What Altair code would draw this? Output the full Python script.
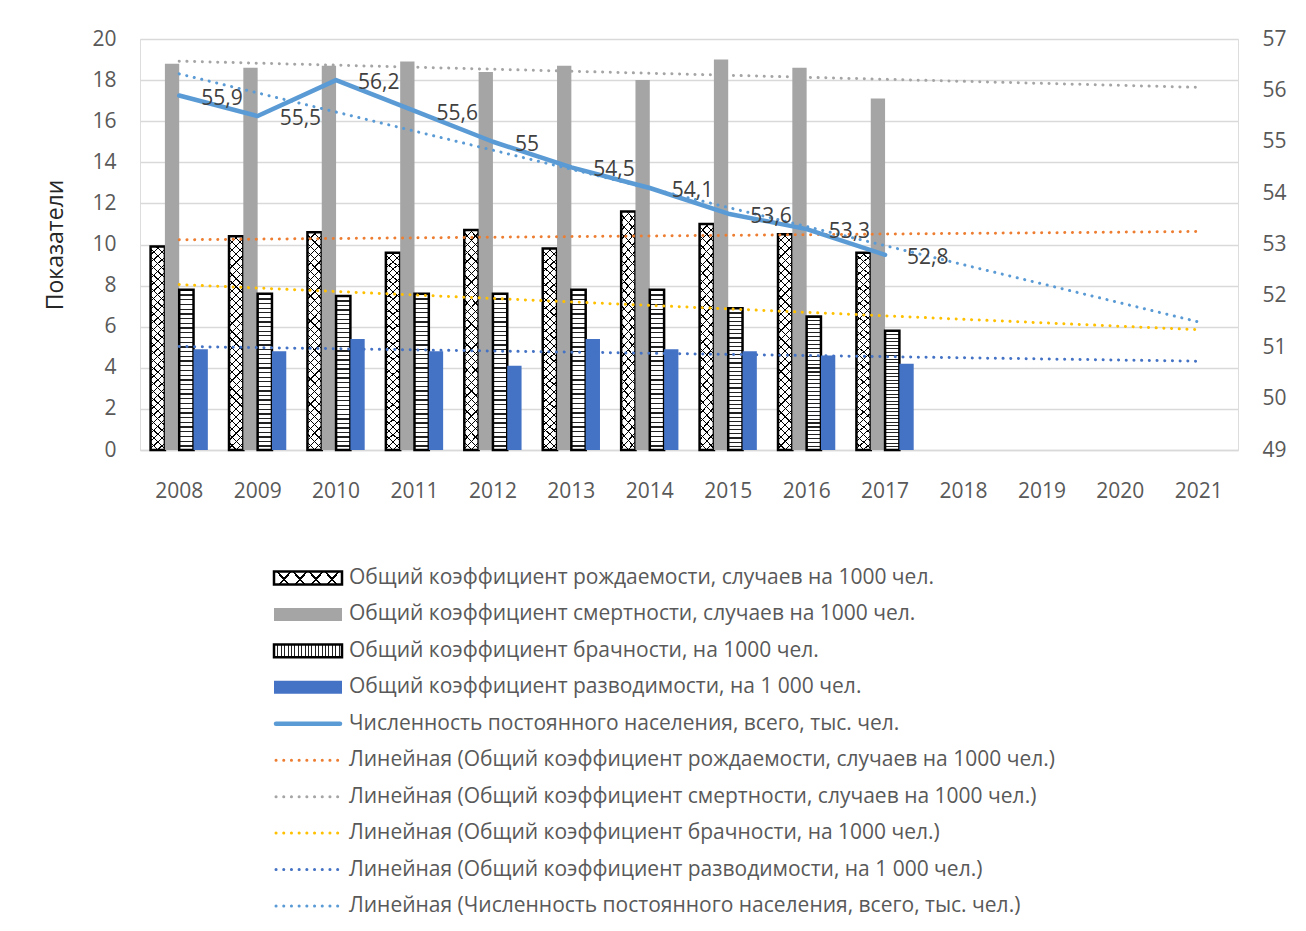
import altair as alt
import pandas as pd

# ---------------- data ----------------
years = [2008, 2009, 2010, 2011, 2012, 2013, 2014, 2015, 2016, 2017]
axis_years = [2008, 2009, 2010, 2011, 2012, 2013, 2014, 2015, 2016, 2017, 2018, 2019, 2020, 2021]
birth = [9.9, 10.4, 10.6, 9.6, 10.7, 9.8, 11.6, 11.0, 10.5, 9.6]
death = [18.8, 18.6, 18.7, 18.9, 18.4, 18.7, 18.0, 19.0, 18.6, 17.1]
marriage = [7.8, 7.6, 7.5, 7.6, 7.6, 7.8, 7.8, 6.9, 6.5, 5.8]
divorce = [4.9, 4.8, 5.4, 4.8, 4.1, 5.4, 4.9, 4.8, 4.6, 4.2]
population = [55.9, 55.5, 56.2, 55.6, 55.0, 54.5, 54.1, 53.6, 53.3, 52.8]

series_keys = ["birth", "death", "marriage", "divorce"]
series_labels = [
    "Общий коэффициент рождаемости, случаев на 1000 чел.",
    "Общий коэффициент смертности, случаев на 1000 чел.",
    "Общий коэффициент брачности, на 1000 чел.",
    "Общий коэффициент разводимости, на 1 000 чел.",
]
pop_label = "Численность постоянного населения, всего, тыс. чел."
trend_labels = ["Линейная (" + s + ")" for s in series_labels + [pop_label]]
legend_labels = series_labels + [pop_label] + trend_labels
legend_kinds = series_keys + ["pop"] + ["t_" + k for k in series_keys] + ["t_pop"]

# ---------------- tables ----------------
rows = []
for key, vals in zip(series_keys, [birth, death, marriage, divorce]):
    for y, v in zip(years, vals):
        rows.append({"year": y, "series": key, "value": v})
bars_df = pd.DataFrame(rows)
pop_df = pd.DataFrame({"year": years, "pop": population})
legend_df = pd.DataFrame({"idx": list(range(len(legend_labels))), "label": legend_labels, "kind": legend_kinds})

# ---------------- styles ----------------
FONT = "Open Sans"
TXT = "#595959"
GRID = "#d9d9d9"
C_DEATH = "#a5a5a5"
C_DIV = "#4472c4"
C_POP = "#5b9bd5"
trend_colors = {"birth": "#ed7d31", "death": "#a5a5a5", "marriage": "#ffc000", "divorce": "#4472c4"}
DOT = [0.1, 7.6]
FS = 21
CLEAR = "rgba(255,255,255,0)"


def band_stops(n, frac, tmax, dark):
    stops = []
    for i in range(n):
        a = tmax * i / n
        b = tmax * (i + frac) / n
        c = tmax * (i + 1) / n
        stops += [
            alt.GradientStop(color=dark, offset=a),
            alt.GradientStop(color=dark, offset=b),
            alt.GradientStop(color=CLEAR, offset=b),
            alt.GradientStop(color=CLEAR, offset=c),
        ]
    if tmax < 1:
        stops.append(alt.GradientStop(color=CLEAR, offset=1))
    return stops


def stripes(n, frac, vertical, dark="#000000"):
    stops = band_stops(n, frac, 1.0, dark)
    if vertical:
        return alt.LinearGradient(gradient="linear", stops=stops, x1=0, y1=0, x2=0, y2=1)
    return alt.LinearGradient(gradient="linear", stops=stops, x1=0, y1=0, x2=1, y2=0)


def diag(n, frac, ky, mirror, dark="#000000"):
    # diagonal hatch in bounding-box units: gradient vector (1, ky)
    tmax = (1 + ky) / (1 + ky * ky)
    stops = band_stops(n, frac, tmax, dark)
    if mirror:
        return alt.LinearGradient(gradient="linear", stops=stops, x1=1, y1=0, x2=0, y2=ky)
    return alt.LinearGradient(gradient="linear", stops=stops, x1=0, y1=0, x2=1, y2=ky)


x_enc = alt.X(
    "year:O",
    scale=alt.Scale(domain=axis_years, paddingInner=0.27, paddingOuter=0.135),
    axis=alt.Axis(
        title=None, labelAngle=0, ticks=False, grid=False, domain=True, domainColor=GRID,
        domainWidth=1.5, labelPadding=30, labelFont=FONT, labelFontSize=FS, labelColor=TXT,
    ),
)
xo_enc = alt.XOffset("series:N", scale=alt.Scale(domain=series_keys, paddingInner=0, paddingOuter=0))
y_left = alt.Y(
    "value:Q",
    scale=alt.Scale(domain=[0, 20], nice=False),
    axis=alt.Axis(
        values=list(range(0, 21, 2)), title="Показатели", grid=True, gridColor=GRID, gridWidth=1.5,
        domain=False, ticks=False, labelPadding=24, labelFont=FONT, labelFontSize=FS, labelColor=TXT,
        titleFont=FONT, titleFontSize=23, titleFontWeight="normal", titleColor="#262626", titlePadding=24,
    ),
)

base_bars = alt.Chart(bars_df).encode(x=x_enc, xOffset=xo_enc, y=y_left)


def only(key):
    return alt.datum.series == key


bars = [
    base_bars.transform_filter(only("birth")).mark_bar(fill="white"),
    base_bars.transform_filter(only("birth")).mark_bar(fill=diag(28, 0.15, 15, False)),
    base_bars.transform_filter(only("birth")).mark_bar(fill=diag(28, 0.15, 15, True)),
    base_bars.transform_filter(only("birth")).mark_bar(fill="transparent", stroke="black", strokeWidth=2.5),
    base_bars.transform_filter(only("death")).mark_bar(fill=C_DEATH),
    base_bars.transform_filter(only("marriage")).mark_bar(fill="white"),
    base_bars.transform_filter(only("marriage")).mark_bar(fill=stripes(34, 0.28, True, "#222222")),
    base_bars.transform_filter(only("marriage")).mark_bar(fill="transparent", stroke="black", strokeWidth=2.5),
    base_bars.transform_filter(only("divorce")).mark_bar(fill=C_DIV),
]

trend_left = (
    alt.Chart(bars_df)
    .transform_regression("year", "value", groupby=["series"], extent=[2008, 2021])
    .mark_line(strokeDash=DOT, strokeWidth=3, strokeCap="round")
    .encode(
        x=x_enc,
        y=y_left,
        color=alt.Color(
            "series:N",
            scale=alt.Scale(domain=series_keys, range=[trend_colors[k] for k in series_keys]),
            legend=None,
        ),
        detail="series:N",
    )
)

left = alt.layer(*bars, trend_left)

y_right = alt.Y(
    "pop:Q",
    scale=alt.Scale(domain=[49, 57], nice=False),
    axis=alt.Axis(
        orient="right", values=list(range(49, 58)), title=None, grid=False, domain=False,
        ticks=False, labelPadding=24, labelFont=FONT, labelFontSize=FS, labelColor=TXT,
    ),
)

pop_base = alt.Chart(pop_df).encode(x=x_enc, y=y_right)
pop_line = pop_base.mark_line(color=C_POP, strokeWidth=4.5, strokeCap="round", strokeJoin="round")
pop_text = pop_base.transform_calculate(
    lab="replace(toString(datum.pop), '.', ',')"
).mark_text(align="left", baseline="middle", dx=22, dy=3, font=FONT, fontSize=FS, color="#404040").encode(
    text="lab:N"
)
pop_trend = (
    alt.Chart(pop_df)
    .transform_regression("year", "pop", extent=[2008, 2021])
    .mark_line(strokeDash=DOT, strokeWidth=3, strokeCap="round", color=C_POP)
    .encode(x=x_enc, y=y_right)
)
right = alt.layer(pop_line, pop_trend, pop_text)

# ---------------- legend ----------------
y_leg = alt.Y("idx:O", scale=alt.Scale(type="point", domain=list(range(10)), range=[539, 867], padding=0), axis=None)
leg = alt.Chart(legend_df).encode(y=y_leg)
BOX = "M-1,-0.19L1,-0.19L1,0.19L-1,0.19Z"
BOX_SIZE = 68 * 68
SX = 168


def lk(kind):
    return alt.datum.kind == kind


def box(kind, **kw):
    return leg.transform_filter(lk(kind)).mark_point(shape=BOX, size=BOX_SIZE, opacity=1, **kw).encode(x=alt.value(SX))


legend_layers = [
    box("birth", filled=True, fill="white"),
    box("birth", filled=True, fill=diag(5, 0.14, 0.176, False)),
    box("birth", filled=True, fill=diag(5, 0.14, 0.176, True)),
    box("birth", filled=False, stroke="black", strokeWidth=2.5),
    box("death", filled=True, fill=C_DEATH),
    box("marriage", filled=True, fill="white"),
    box("marriage", filled=True, fill=stripes(20, 0.3, False, "#222222")),
    box("marriage", filled=False, stroke="black", strokeWidth=2.5),
    box("divorce", filled=True, fill=C_DIV),
    leg.transform_filter(lk("pop")).mark_rule(color=C_POP, strokeWidth=4.5, strokeCap="round").encode(x=alt.value(136), x2=alt.value(200)),
]
for key in series_keys:
    legend_layers.append(
        leg.transform_filter(lk("t_" + key)).mark_rule(color=trend_colors[key], strokeWidth=3, strokeDash=DOT, strokeCap="round").encode(x=alt.value(136), x2=alt.value(202))
    )
legend_layers.append(
    leg.transform_filter(lk("t_pop")).mark_rule(color=C_POP, strokeWidth=3, strokeDash=DOT, strokeCap="round").encode(x=alt.value(136), x2=alt.value(202))
)
legend_layers.append(
    leg.mark_text(align="left", baseline="middle", font=FONT, fontSize=21, color=TXT).encode(x=alt.value(209), text="label:N")
)
legend = alt.layer(*legend_layers)

chart = (
    alt.layer(left, right, legend)
    .resolve_scale(y="independent", color="independent")
    .properties(width=1098, height=411, padding={"left": 36, "top": 20, "right": 5, "bottom": 5})
    .configure_view(strokeWidth=0, stroke="transparent")
    .configure_axis(domain=False, grid=False, ticks=False, domainColor="orange", gridColor="orange")
    .configure_axisRight(domain=False, grid=False, ticks=False)
    .configure_axisLeft(domain=False, ticks=False)
    .configure(background="white")
)

chart.save("out.html", embed_options={"renderer": "svg", "actions": False})
